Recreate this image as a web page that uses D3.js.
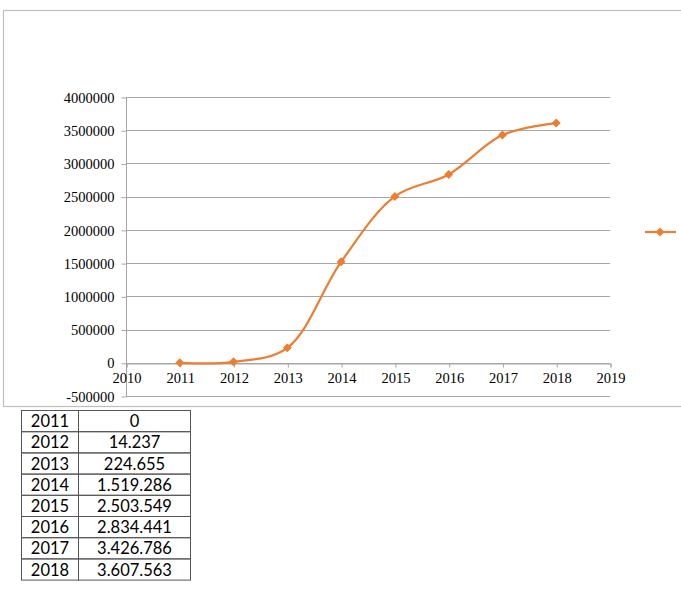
<!DOCTYPE html>
<html><head><meta charset="utf-8">
<script src="https://cdn.jsdelivr.net/npm/d3@7"></script>
<style>
html,body{margin:0;padding:0;background:#fff;}
svg{display:block;}
.tb text{font-family:Lato,"Open Sans",sans-serif;font-size:16.5px;fill:#000;}
</style></head>
<body>
<svg id="c" width="681" height="604"></svg>
<script>
const years = [2011, 2012, 2013, 2014, 2015, 2016, 2017, 2018];
const values = [0, 14237, 224655, 1519286, 2503549, 2834441, 3426786, 3607563];
const tableLabels = ["0", "14.237", "224.655", "1.519.286", "2.503.549", "2.834.441", "3.426.786", "3.607.563"];
const yTicks = [-500000, 0, 500000, 1000000, 1500000, 2000000, 2500000, 3000000, 3500000, 4000000];
const xTicks = [2010, 2011, 2012, 2013, 2014, 2015, 2016, 2017, 2018, 2019];

const svg = d3.select("#c");
const orange = "#ED7D31";
const serif = "'Liberation Serif', 'Times New Roman', 'DejaVu Serif', serif";

// chart frame
svg.append("rect").attr("x", 3.5).attr("y", 10.5).attr("width", 700).attr("height", 396)
  .attr("fill", "#fff").attr("stroke", "#bfbfbf").attr("stroke-width", 1.2);

const x = d3.scaleLinear().domain([2010, 2019]).range([126, 610]);
const y = d3.scaleLinear().domain([-500000, 4000000]).range([396, 97]);

// gridlines
svg.append("g").selectAll("line").data(yTicks).join("line")
  .attr("x1", x(2010)).attr("x2", x(2019))
  .attr("y1", d => Math.round(y(d)) + 0.5).attr("y2", d => Math.round(y(d)) + 0.5)
  .attr("stroke", "#a6a6a6").attr("stroke-width", 1);

// y axis line
svg.append("line").attr("x1", x(2010) + 0.5).attr("x2", x(2010) + 0.5)
  .attr("y1", y(4000000)).attr("y2", y(-500000)).attr("stroke", "#a6a6a6");

// y axis ticks/labels
const yAxis = d3.axisLeft(y).tickValues(yTicks).tickSize(5).tickPadding(7).tickFormat(d => String(d));
const gy = svg.append("g").attr("transform", `translate(${x(2010) + 0.5},0.5)`).call(yAxis);
gy.select(".domain").remove();
gy.selectAll(".tick line").attr("stroke", "#a6a6a6");
gy.selectAll("text").style("font-family", serif).style("font-size", "14.5px").style("fill", "#000");

// x axis at zero
const xAxis = d3.axisBottom(x).tickValues(xTicks).tickSize(4).tickPadding(5.5).tickFormat(d => String(d));
const gx = svg.append("g").attr("transform", `translate(0.5,${Math.round(y(0)) + 0.5})`).call(xAxis);
gx.select(".domain").attr("stroke", "#a6a6a6");
gx.selectAll(".tick line").attr("stroke", "#a6a6a6");
gx.selectAll("text").style("font-family", serif).style("font-size", "14.5px").style("fill", "#000");

// line
const pts = years.map((yr, i) => [x(yr), y(values[i])]);
svg.append("path").attr("d", d3.line().curve(d3.curveCatmullRom.alpha(0.5))(pts))
  .attr("fill", "none").attr("stroke", orange).attr("stroke-width", 2.2);

const diamond = d3.symbol().type(d3.symbolSquare).size(40);
svg.append("g").selectAll("path").data(pts).join("path")
  .attr("transform", d => `translate(${d[0]},${d[1]}) rotate(45)`)
  .attr("d", diamond).attr("fill", orange);

// legend
svg.append("line").attr("x1", 645).attr("x2", 676).attr("y1", 232).attr("y2", 232)
  .attr("stroke", orange).attr("stroke-width", 2.2);
svg.append("path").attr("transform", "translate(660,232) rotate(45)").attr("d", diamond).attr("fill", orange);

// table
const tx0 = 21.5, tx1 = 78.5, tx2 = 190.5, ty0 = 410.5, rh = 21.2;
const tg = svg.append("g").attr("class", "tb");
years.forEach((yr, i) => {
  const yy = ty0 + i * rh;
  tg.append("rect").attr("x", tx0).attr("y", yy).attr("width", tx1 - tx0).attr("height", rh)
    .attr("fill", "none").attr("stroke", "#555").attr("stroke-width", 1);
  tg.append("rect").attr("x", tx1).attr("y", yy).attr("width", tx2 - tx1).attr("height", rh)
    .attr("fill", "none").attr("stroke", "#555").attr("stroke-width", 1);
  tg.append("text").attr("x", (tx0 + tx1) / 2).attr("y", yy + rh / 2 + 6)
    .attr("text-anchor", "middle").text(yr);
  tg.append("text").attr("x", (tx1 + tx2) / 2).attr("y", yy + rh / 2 + 6)
    .attr("text-anchor", "middle").text(tableLabels[i]);
});
</script>
</body></html>
